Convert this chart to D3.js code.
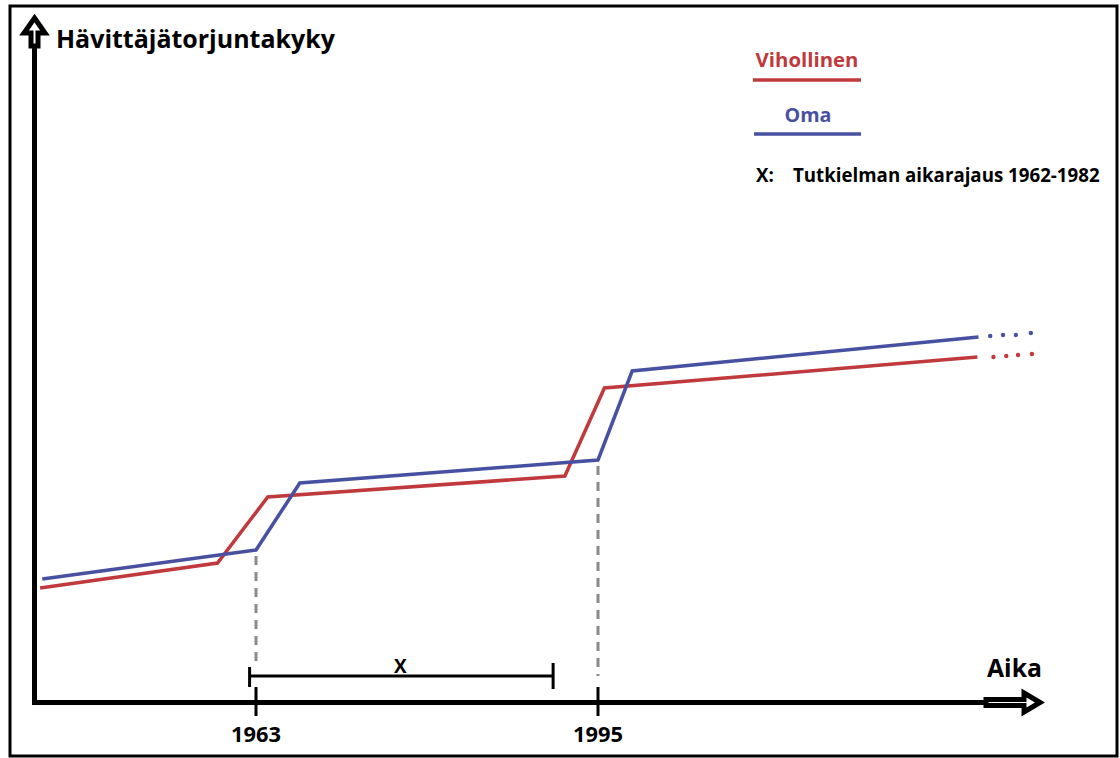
<!DOCTYPE html>
<html>
<head>
<meta charset="utf-8">
<script src="https://cdn.jsdelivr.net/npm/d3@7"></script>
<style>
  body { margin: 0; background: #fff; }
  svg text { font-family: "Open Sans", Lato, sans-serif; font-weight: bold; }
</style>
</head>
<body>
<svg id="chart" width="1120" height="758"></svg>
<script>
// data (x in years, y in arbitrary capability units)
const vihollinenYears = [1942.8, 1959.4, 1964.1, 1991.9, 1995.6, 2030.5];
const vihollinenLevels = [23, 28, 41.2, 45.4, 63, 69.2];
const omaYears = [1943.0, 1963, 1967.1, 1995, 1998.2, 2030.6];
const omaLevels = [24.8, 30.6, 44, 48.6, 66.4, 73.2];
// dotted continuation
const vihollinenDotYears = [2032.0, 2033.2, 2034.3, 2035.6];
const vihollinenDotLevels = [69.2, 69.4, 69.6, 69.8];
const omaDotYears = [2031.7, 2032.9, 2034.1, 2035.5];
const omaDotLevels = [73.4, 73.6, 73.6, 74];
// axis ticks and the study period bracket
const tickYears = [1963, 1995];
const dropLevels = [30.6, 48.6];
const bracketYears = [1962.4, 1990.8];

const red = "#c0393d", blue = "#4851a1";

var svg = d3.select("#chart");
var x = d3.scaleLinear().domain([1963, 1995]).range([256, 598]);
var y = d3.scaleLinear().domain([0, 100]).range([703, 203]);

// shrink/grow a label so it spans the same width as in the picture
function fit(sel, w) {
  var fs = +sel.attr("font-size");
  var len = sel.node().getComputedTextLength();
  if (len > 0) sel.attr("font-size", (fs * w / len).toFixed(2));
  return sel;
}

// frame
svg.append("rect")
  .attr("x", 10).attr("y", 6).attr("width", 1107).attr("height", 750)
  .attr("fill", "none").attr("stroke", "#000").attr("stroke-width", 3);

// gray dashed drop lines
tickYears.forEach(function(yr, i) {
  svg.append("line")
    .attr("x1", x(yr)).attr("x2", x(yr))
    .attr("y1", y(dropLevels[i]) + 6).attr("y2", i == 0 ? 664 : 676)
    .attr("stroke", "#8a8a8a").attr("stroke-width", 3)
    .attr("stroke-dasharray", "9,7");
});

// axes
var axisG = svg.append("g");
axisG.append("line")
  .attr("x1", 34.5).attr("x2", 34.5).attr("y1", 705).attr("y2", 44)
  .attr("stroke", "#000").attr("stroke-width", 5);
axisG.append("line")
  .attr("x1", 32).attr("x2", 986).attr("y1", 702.5).attr("y2", 702.5)
  .attr("stroke", "#000").attr("stroke-width", 5);

// hollow arrow heads
function arrow(points) {
  axisG.append("path")
    .attr("d", "M" + points.join("L") + "Z")
    .attr("fill", "#fff").attr("stroke", "#000").attr("stroke-width", 5)
    .attr("stroke-linejoin", "miter");
}
arrow([[34.5, 18], [45, 33], [38, 33], [38, 46], [31, 46], [31, 33], [24, 33]]);
arrow([[1040, 702.5], [1024, 693], [1024, 699.5], [986, 699.5], [986, 705.5], [1024, 705.5], [1024, 712]]);

// ticks
tickYears.forEach(function(yr) {
  axisG.append("line")
    .attr("x1", x(yr)).attr("x2", x(yr)).attr("y1", 687).attr("y2", 716)
    .attr("stroke", "#000").attr("stroke-width", 3);
  fit(axisG.append("text")
    .attr("x", x(yr)).attr("y", 742)
    .attr("text-anchor", "middle").attr("font-size", 18)
    .text(yr), 50);
});

// bracket X
var br = svg.append("g");
br.append("line")
  .attr("x1", x(bracketYears[0])).attr("x2", x(bracketYears[1]))
  .attr("y1", 676).attr("y2", 676)
  .attr("stroke", "#000").attr("stroke-width", 3);
br.append("line")
  .attr("x1", x(bracketYears[0])).attr("x2", x(bracketYears[0]))
  .attr("y1", 667).attr("y2", 687)
  .attr("stroke", "#000").attr("stroke-width", 3);
br.append("line")
  .attr("x1", x(bracketYears[1])).attr("x2", x(bracketYears[1]))
  .attr("y1", 663).attr("y2", 689)
  .attr("stroke", "#000").attr("stroke-width", 3);
br.append("text")
  .attr("x", (x(bracketYears[0]) + x(bracketYears[1])) / 2 - 1).attr("y", 673)
  .attr("text-anchor", "middle").attr("font-size", 19)
  .text("X");

// series
var line = d3.line().x(d => x(d[0])).y(d => y(d[1]));
function series(years, levels, dotYears, dotLevels, color) {
  svg.append("path")
    .datum(d3.zip(years, levels))
    .attr("d", line)
    .attr("fill", "none").attr("stroke", color).attr("stroke-width", 3.5)
    .attr("stroke-linejoin", "miter");
  svg.selectAll(null)
    .data(d3.zip(dotYears, dotLevels))
    .enter().append("circle")
    .attr("cx", d => x(d[0])).attr("cy", d => y(d[1])).attr("r", 2.2)
    .attr("fill", color);
}
series(vihollinenYears, vihollinenLevels, vihollinenDotYears, vihollinenDotLevels, red);
series(omaYears, omaLevels, omaDotYears, omaDotLevels, blue);

// axis titles
fit(svg.append("text").attr("x", 56).attr("y", 48).attr("font-size", 23)
  .text("Hävittäjätorjuntakyky"), 279);
fit(svg.append("text").attr("x", 987).attr("y", 677).attr("font-size", 23)
  .text("Aika"), 55);

// legend
var lg = svg.append("g");
fit(lg.append("text").attr("x", 807).attr("y", 67).attr("text-anchor", "middle")
  .attr("font-size", 18).attr("fill", red).text("Vihollinen"), 103);
lg.append("line").attr("x1", 753).attr("x2", 861).attr("y1", 80).attr("y2", 80)
  .attr("stroke", red).attr("stroke-width", 3.5);
fit(lg.append("text").attr("x", 808).attr("y", 122).attr("text-anchor", "middle")
  .attr("font-size", 18).attr("fill", blue).text("Oma"), 47);
lg.append("line").attr("x1", 754).attr("x2", 861).attr("y1", 134).attr("y2", 134)
  .attr("stroke", blue).attr("stroke-width", 3.5);
var note = fit(lg.append("text").attr("x", 793).attr("y", 182).attr("font-size", 15)
  .text("Tutkielman aikarajaus 1962-1982"), 307);
lg.append("text").attr("x", 756).attr("y", 182)
  .attr("font-size", note.attr("font-size")).text("X:");
</script>
</body>
</html>
